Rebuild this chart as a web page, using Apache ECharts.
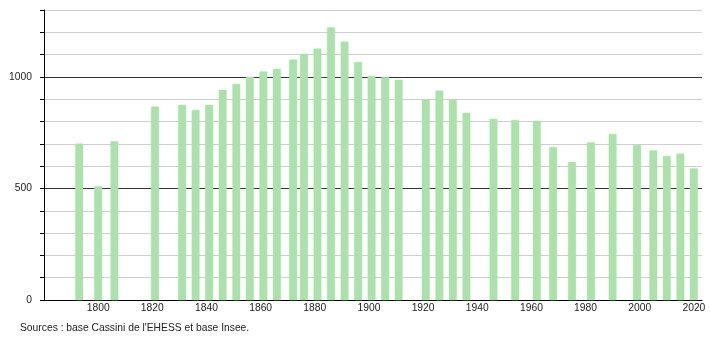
<!DOCTYPE html>
<html>
<head>
<meta charset="utf-8">
<script src="https://cdn.jsdelivr.net/npm/echarts@6/dist/echarts.min.js"></script>
<style>html,body{margin:0;padding:0;background:#fff}#c{width:710px;height:340px}</style>
</head>
<body>
<div id="c"></div>
<script>
var years = [1793,1800,1806,1821,1831,1836,1841,1846,1851,1856,1861,1866,1872,1876,1881,1886,1891,1896,1901,1906,1911,1921,1926,1931,1936,1946,1954,1962,1968,1975,1982,1990,1999,2005,2010,2015,2020];
var population = [700,509,710,866,874,851,874,941,967,1000,1024,1036,1077,1103,1126,1221,1158,1066,1003,998,986,897,938,897,838,811,806,802,685,619,706,743,694,670,644,656,590];
var yTickLabels = [0,500,1000];
var xTickLabels = [1800,1820,1840,1860,1880,1900,1920,1940,1960,1980,2000,2020];
var sourceText = "Sources : base Cassini de l'EHESS et base Insee.";

var data = years.map(function(y,i){return [y, population[i]];});
var chart = echarts.init(document.getElementById('c'), null, {renderer:'canvas'});
chart.setOption({
  animation:false,
  backgroundColor:'#fff',
  grid:{left:44, right:8, top:10, bottom:40, containLabel:false},
  xAxis:{
    type:'value', min:1780, max:2023, interval:20,
    axisLine:{show:true, onZero:false, lineStyle:{color:'#000', width:1}},
    axisTick:{show:false},
    splitLine:{show:false},
    axisLabel:{
      margin:3, color:'#222', fontFamily:'Liberation Sans, Arial, sans-serif', fontSize:10.3,
      formatter:function(v){return xTickLabels.indexOf(v)>=0 ? String(v) : '';}
    }
  },
  yAxis:{
    type:'value', min:0, max:1300, interval:100,
    axisLine:{show:true, lineStyle:{color:'#000', width:1}},
    axisTick:{show:true, inside:false, length:4, lineStyle:{color:'#000'}},
    splitLine:{show:true, lineStyle:{color:['#333','#cfcfcf','#cfcfcf','#cfcfcf','#cfcfcf'], width:1}},
    axisLabel:{
      margin:12, color:'#222', fontFamily:'Liberation Sans, Arial, sans-serif', fontSize:10.3,
      formatter:function(v){return yTickLabels.indexOf(v)>=0 ? String(v) : '';}
    }
  },
  series:[{
    type:'bar', data:data, barWidth:7.5,
    itemStyle:{color:'#ade0ad', shadowColor:'rgba(173,224,173,0.8)', shadowBlur:2}
  }],
  graphic:[{
    type:'text', left:20, top:323,
    style:{text:sourceText, fill:'#222', font:'10.3px "Liberation Sans", Arial, sans-serif'}
  }]
});
</script>
</body>
</html>
